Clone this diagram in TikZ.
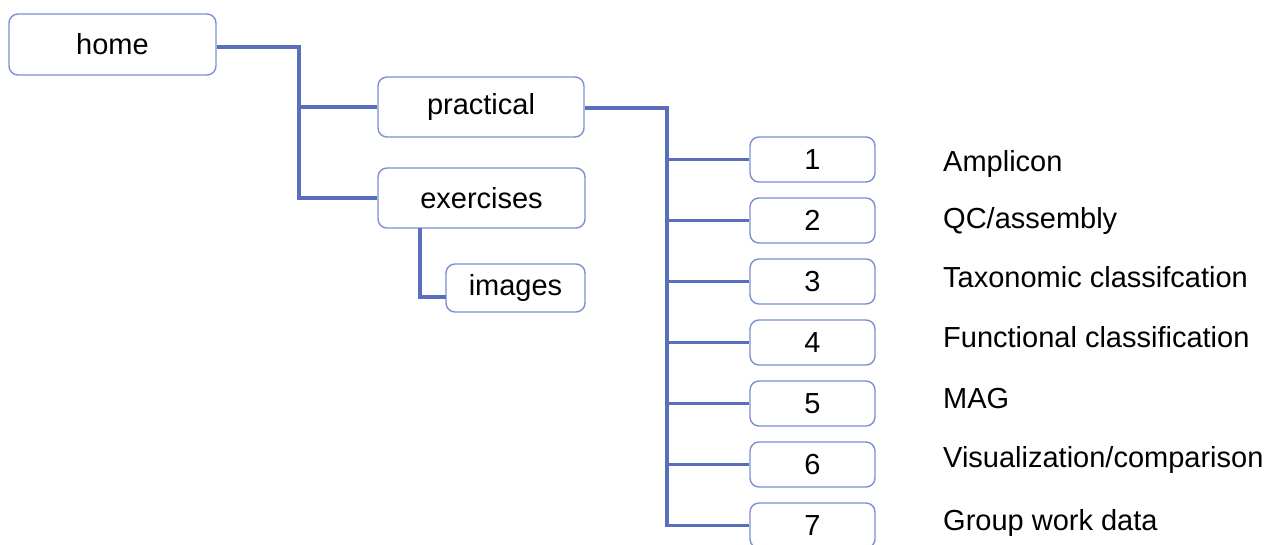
\documentclass[tikz,border=0pt]{standalone}
\usepackage{fontspec}
\setmainfont{Liberation Sans}
\definecolor{linkblue}{HTML}{5A6EBE}
\definecolor{boxblue}{HTML}{7C8FD0}
\begin{document}
\begin{tikzpicture}[x=1pt,y=-1pt,
  box/.style={draw=boxblue,line width=1.4pt,rounded corners=9pt,fill=white,
    inner sep=0pt,font=\fontsize{29}{34}\selectfont},
  lbl/.style={anchor=base west,inner sep=0pt,font=\fontsize{29}{34}\selectfont},
  link/.style={draw=linkblue,line width=3.7pt}]
\useasboundingbox (0,0) rectangle (1265,545);
\clip (0,0) rectangle (1265,545);
% nodes
\node[box,minimum width=207pt,minimum height=61pt] (home) at (112.5,44.5) {home};
\node[box,minimum width=206pt,minimum height=60pt] (practical) at (481,107) {practical};
\node[box,minimum width=207pt,minimum height=60pt] (exercises) at (481.5,198) {exercises};
\node[box,minimum width=139pt,minimum height=48pt] (images) at (515.5,288) {images};
\foreach \i in {1,...,7}{
  \node[box,minimum width=125pt,minimum height=45pt] (b\i) at (812.5,{159.5+61*(\i-1)}) {\i};
}
\node[lbl] (l1) at (943,172) {Amplicon};
\node[lbl] (l2) at (943,229) {QC/assembly};
\node[lbl] (l3) at (943,287) {Taxonomic classifcation};
\node[lbl] (l4) at (943,347) {Functional classification};
\node[lbl] (l5) at (943,408) {MAG};
\node[lbl] (l6) at (943,467) {Visualization/comparison};
\node[lbl] (l7) at (943,530) {Group work data};
% junctions
\coordinate (hj) at (299,47);
\coordinate (pj) at (667,108);
\coordinate (ej) at (420,228);
\coordinate (ij) at (446,297);
% connectors
\draw[link] (home.east |- hj) -- (hj) |- (practical.west);
\draw[link] (hj) |- (exercises.west);
\draw[link] (practical.east |- pj) -- (pj) |- (b7.west);
\foreach \i in {1,...,6}{
  \draw[link] (pj) |- (b\i.west);
}
\draw[link] (ej) |- (ij);
\end{tikzpicture}
\end{document}
